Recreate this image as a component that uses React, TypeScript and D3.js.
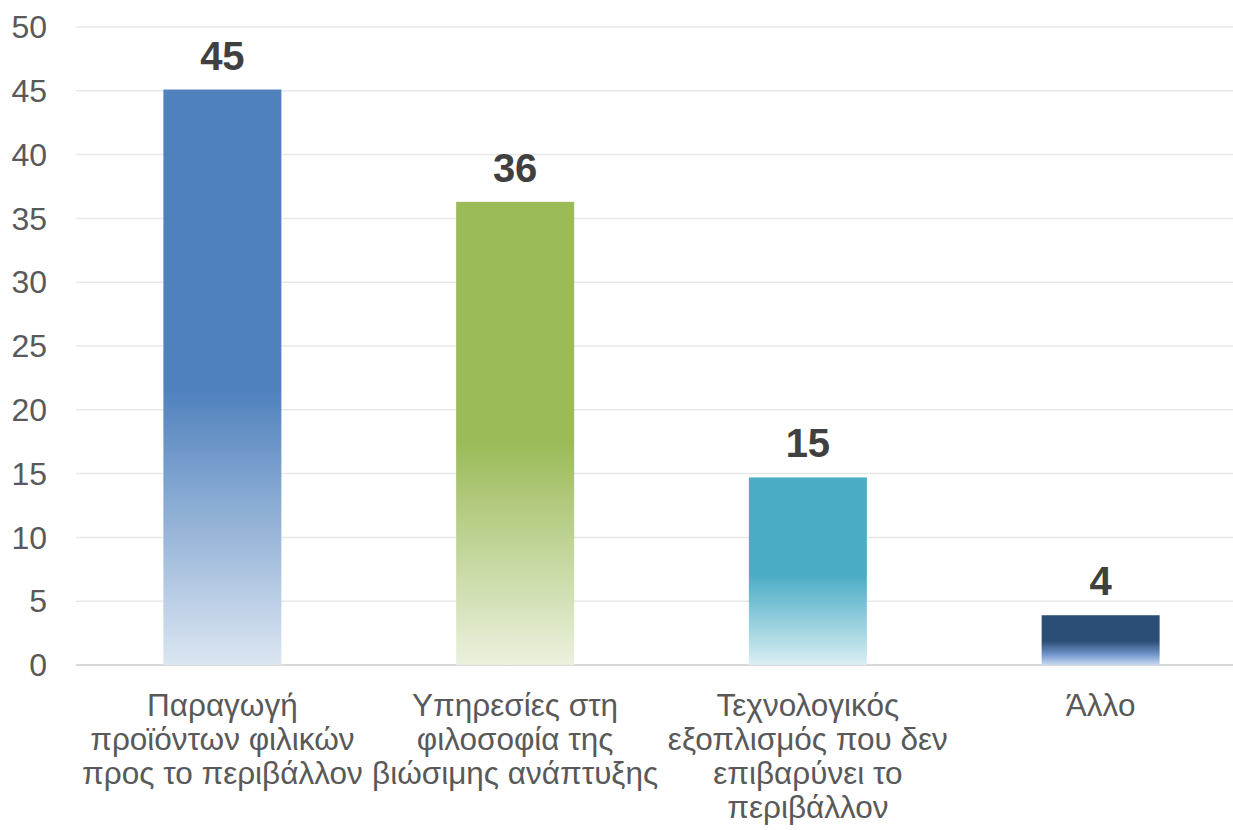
import React from "react";
import * as d3 from "d3";

const categories: string[][] = [
  ["Παραγωγή", "προϊόντων φιλικών", "προς το περιβάλλον"],
  ["Υπηρεσίες στη", "φιλοσοφία της", "βιώσιμης ανάπτυξης"],
  ["Τεχνολογικός", "εξοπλισμός που δεν", "επιβαρύνει το", "περιβάλλον"],
  ["Άλλο"],
];
const values: number[] = [45.1, 36.3, 14.7, 3.9];
const yTicks: number[] = [0, 5, 10, 15, 20, 25, 30, 35, 40, 45, 50];
const topColors: string[] = ["#4F81BD", "#9BBB59", "#4BACC6", "#2C4D75"];
const bottomColors: string[] = ["#DCE6F2", "#EBF1DE", "#DAEEF3", "#C6D9F1"];
const midColors: (string | null)[] = [null, null, null, "#6E93C9"];

const W = 1233;
const H = 830;
const FONT = "'Liberation Sans', Arial, sans-serif";

export default function App() {
  const ids = categories.map((_, i) => `c${i}`);
  const x = d3.scaleBand<string>().domain(ids).range([76, 1247]).paddingInner(0.597).paddingOuter(0.2985);
  const y = d3.scaleLinear().domain([0, 50]).range([665, 27]);

  return (
    <svg width={W} height={H} style={{ position: "absolute", left: 0, top: 0, background: "#fff" }}>
      <defs>
        {values.map((_, i) => (
          <linearGradient key={i} id={`g${i}`} x1="0" y1="0" x2="0" y2="1">
            <stop offset="0" stopColor={topColors[i]} />
            <stop offset="0.52" stopColor={topColors[i]} />
            {midColors[i] ? <stop offset="0.78" stopColor={midColors[i] as string} /> : null}
            <stop offset="1" stopColor={bottomColors[i]} />
          </linearGradient>
        ))}
      </defs>
      {yTicks.map((t) => (
        <g key={t}>
          <line x1={76} x2={W} y1={y(t)} y2={y(t)} stroke={t === 0 ? "#D9D9D9" : "#E8E8E8"} strokeWidth={t === 0 ? 2 : 1.5} />
          <text x={47} y={y(t)} dy="0.35em" textAnchor="end" fontFamily={FONT} fontSize={32} fill="#595959">
            {t}
          </text>
        </g>
      ))}
      {values.map((v, i) => (
        <g key={i}>
          <rect x={x(ids[i])} y={y(v)} width={x.bandwidth()} height={y(0) - y(v)} fill={`url(#g${i})`} />
          <text
            x={(x(ids[i]) as number) + x.bandwidth() / 2}
            y={y(v) - 20}
            textAnchor="middle"
            fontFamily={FONT}
            fontSize={40}
            fontWeight="bold"
            fill="#404040"
          >
            {d3.format(".0f")(v)}
          </text>
          {categories[i].map((line, j) => (
            <text
              key={j}
              x={(x(ids[i]) as number) + x.bandwidth() / 2}
              y={716 + j * 34}
              textAnchor="middle"
              fontFamily={FONT}
              fontSize={31.5}
              fill="#595959"
            >
              {line}
            </text>
          ))}
        </g>
      ))}
    </svg>
  );
}
